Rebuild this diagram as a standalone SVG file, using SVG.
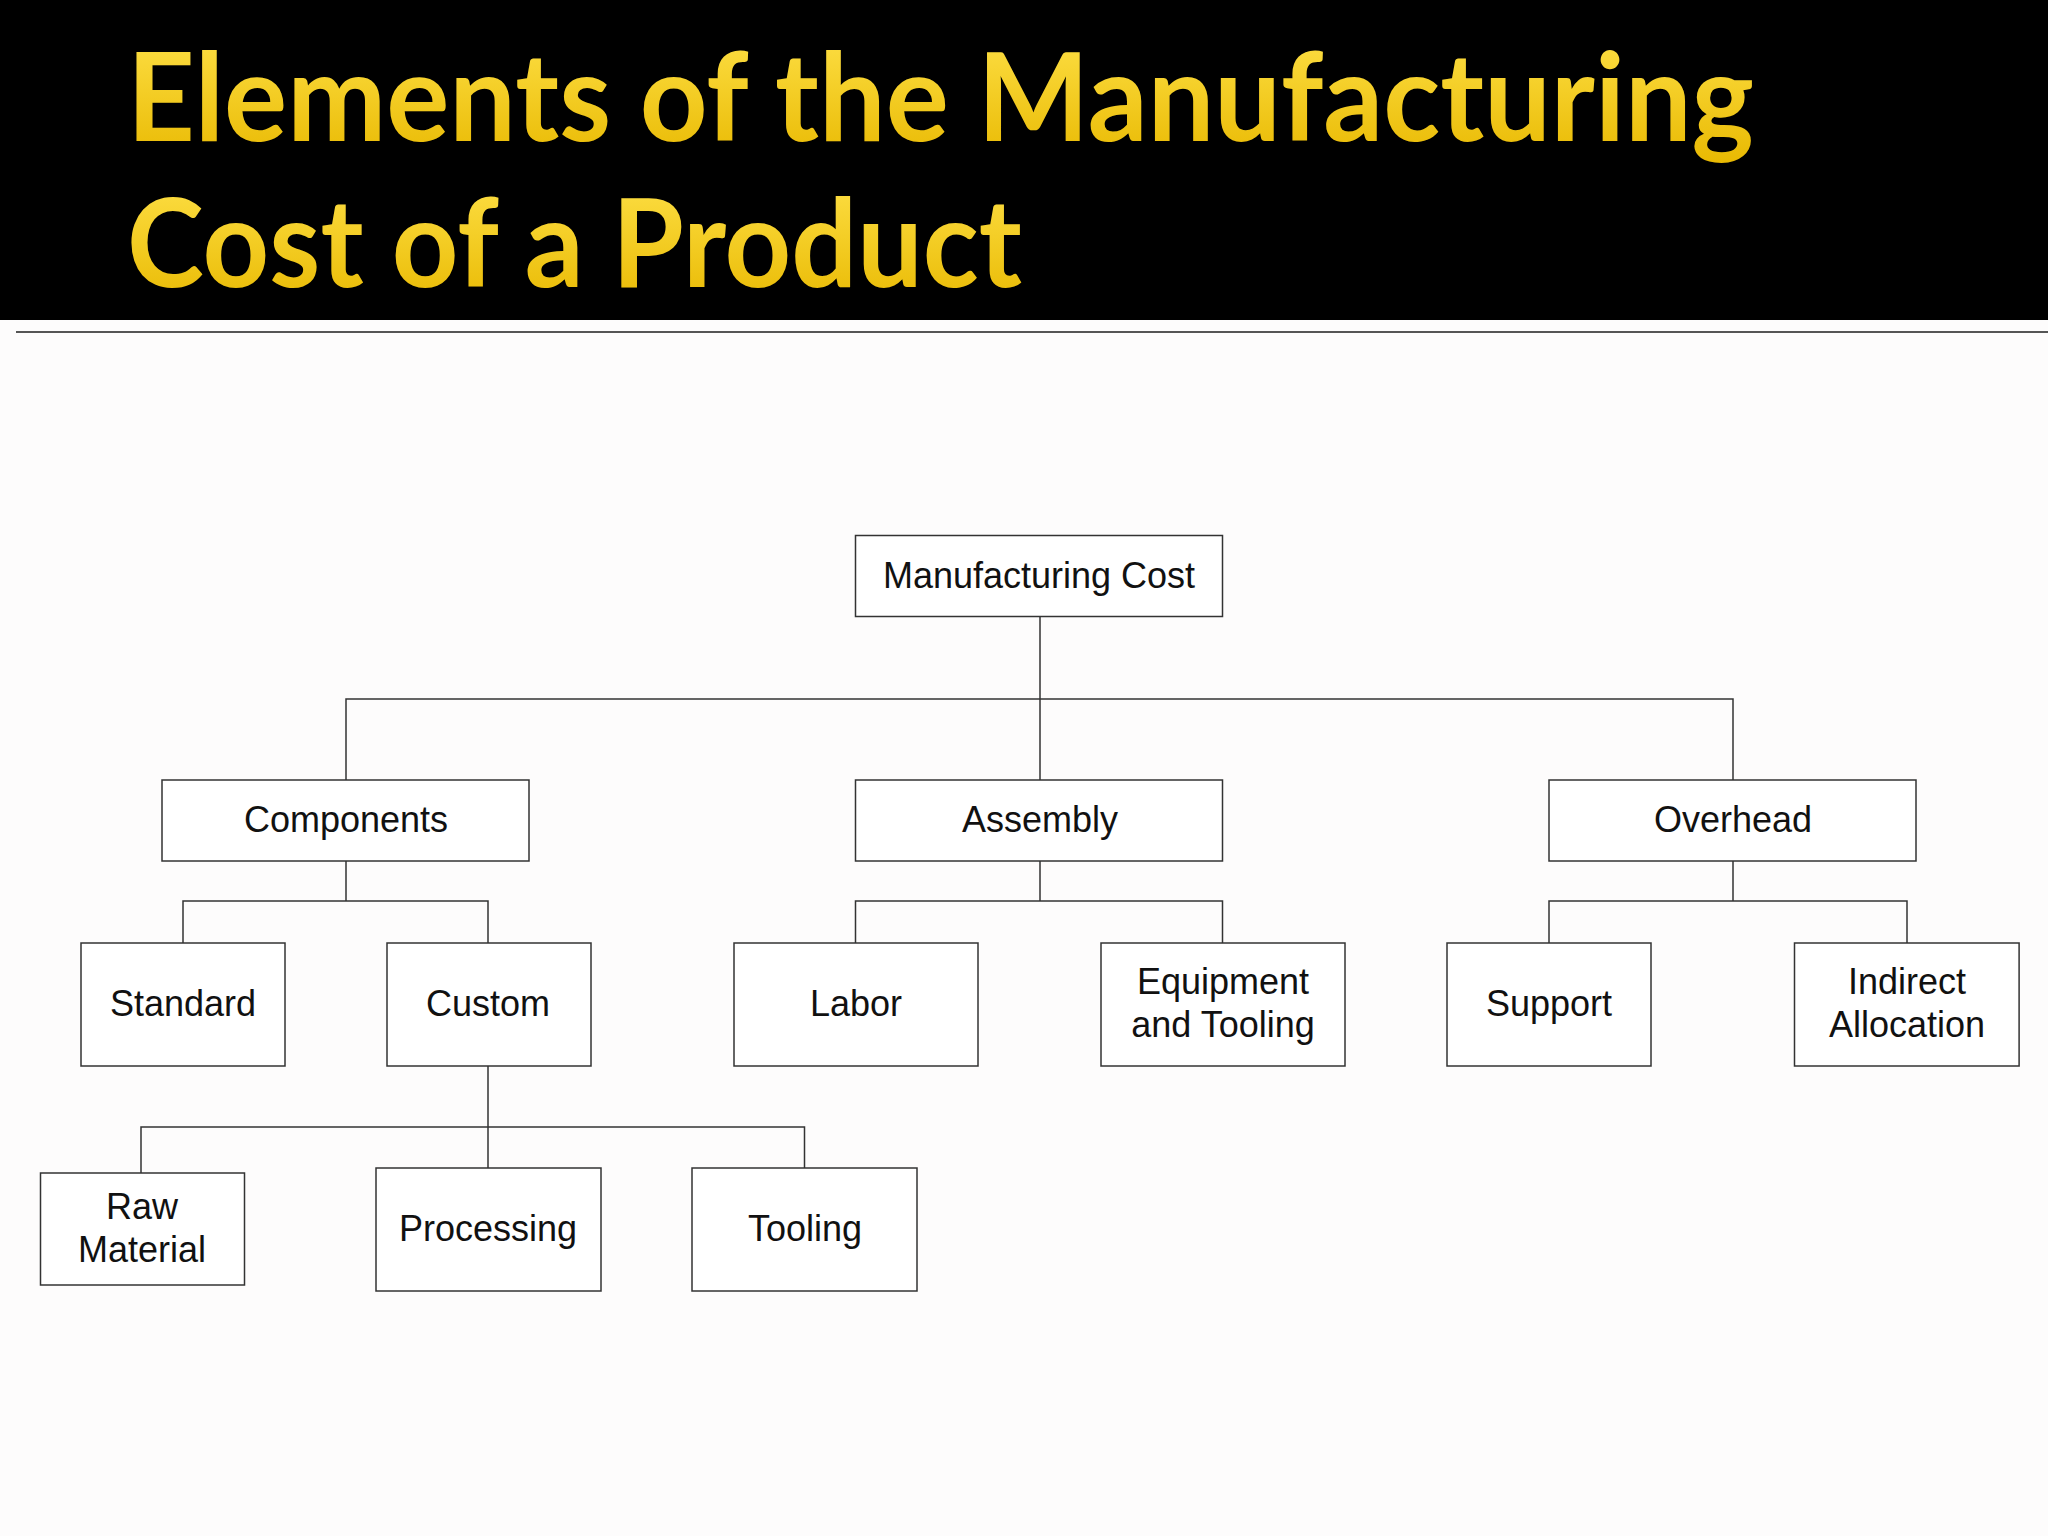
<svg xmlns="http://www.w3.org/2000/svg" width="2048" height="1536" viewBox="0 0 2048 1536">
<defs>
<linearGradient id="tg" x1="0" y1="0" x2="0" y2="1"><stop offset="0" stop-color="#FFE24A"/><stop offset="1" stop-color="#E8B800"/></linearGradient>
</defs>
<style>
.b{fill:#fff;stroke:#333;stroke-width:1.5}
.t{font-family:"Liberation Sans",Arial,sans-serif;font-size:36px;fill:#111;text-anchor:middle}
.c{fill:none;stroke:#333;stroke-width:1.5}
.h{font-family:Lato,"Open Sans",sans-serif;font-weight:bold;font-size:122px;fill:url(#tg)}
</style>
<rect width="2048" height="1536" fill="#fdfcfc"/>
<rect width="2048" height="320" fill="#000"/>
<line x1="16" y1="332" x2="2048" y2="332" stroke="#555" stroke-width="2"/>
<text class="h" x="127" y="141" textLength="1627" lengthAdjust="spacingAndGlyphs">Elements of the Manufacturing</text>
<text class="h" x="127" y="287" textLength="895" lengthAdjust="spacingAndGlyphs">Cost of a Product</text>
<g id="connectors">
<path class="c" d="M1040 616V780M346 780V699H1733V780"/>
<path class="c" d="M346 861V901M183 943V901H488V943"/>
<path class="c" d="M1040 861V901M855.5 943V901H1222.5V943"/>
<path class="c" d="M1733 861V901M1549 943V901H1907V943"/>
<path class="c" d="M488 1066V1168M141 1173V1127H804.5V1168"/>
</g>
<g id="root"><rect class="b" x="855.5" y="535.5" width="367" height="81"/><text class="t" x="1039" y="588">Manufacturing Cost</text></g>
<g id="components"><rect class="b" x="162" y="780" width="367" height="81"/><text class="t" x="346" y="832">Components</text></g>
<g id="assembly"><rect class="b" x="855.5" y="780" width="367" height="81"/><text class="t" x="1040" y="832">Assembly</text></g>
<g id="overhead"><rect class="b" x="1549" y="780" width="367" height="81"/><text class="t" x="1733" y="832">Overhead</text></g>
<g id="standard"><rect class="b" x="81" y="943" width="204" height="123"/><text class="t" x="183" y="1016">Standard</text></g>
<g id="custom"><rect class="b" x="387" y="943" width="204" height="123"/><text class="t" x="488" y="1016">Custom</text></g>
<g id="labor"><rect class="b" x="734" y="943" width="244" height="123"/><text class="t" x="856" y="1016">Labor</text></g>
<g id="equipment"><rect class="b" x="1101" y="943" width="244" height="123"/><text class="t" x="1223" y="994">Equipment</text><text class="t" x="1223" y="1037">and Tooling</text></g>
<g id="support"><rect class="b" x="1447" y="943" width="204" height="123"/><text class="t" x="1549" y="1016">Support</text></g>
<g id="indirect"><rect class="b" x="1794.5" y="943" width="224.6" height="123"/><text class="t" x="1907" y="994">Indirect</text><text class="t" x="1907" y="1037">Allocation</text></g>
<g id="raw"><rect class="b" x="40.5" y="1173" width="204" height="112"/><text class="t" x="142" y="1219">Raw</text><text class="t" x="142" y="1262">Material</text></g>
<g id="processing"><rect class="b" x="376" y="1168" width="225" height="123"/><text class="t" x="488" y="1241">Processing</text></g>
<g id="tooling"><rect class="b" x="692" y="1168" width="225" height="123"/><text class="t" x="805" y="1241">Tooling</text></g>
</svg>
